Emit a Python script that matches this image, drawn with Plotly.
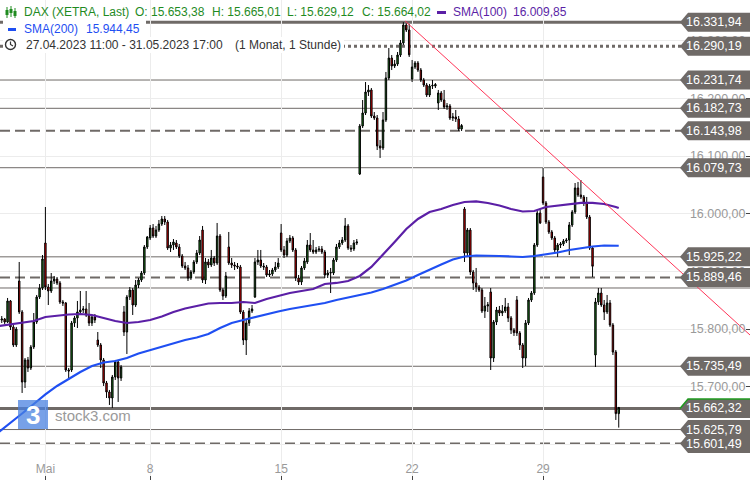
import plotly.graph_objects as go

W, H = 750, 480

# ---------------- data (hourly candles, 27.04.2023 11:00 - 31.05.2023 17:00) ----------------
open_ = [
    15812.2, 15815.7, 15817.4, 15812.2, 15848.7, 15803.6, 15772.4, 15883.3, 15829.6, 15708.2,
    15746.4, 15732.5, 15768.9, 15812.2, 15855.6, 15871.2, 15949.2, 15872.9, 15866.0, 15883.3,
    15886.8, 15879.9, 15846.9, 15845.2, 15729.0, 15729.0, 15810.5, 15819.2, 15829.6, 15833.0,
    15834.8, 15824.4, 15810.5, 15820.9, 15781.0, 15772.4, 15746.4, 15706.5, 15690.9, 15680.5,
    15716.9, 15742.9, 15715.2, 15829.6, 15794.9, 15855.6, 15867.7, 15841.7, 15876.4, 15885.1,
    15897.2, 15942.3, 15957.9, 15975.2, 15961.3, 15971.7, 15982.1, 15990.8, 15985.6, 15940.5,
    15945.7, 15949.2, 15942.3, 15926.7, 15909.3, 15905.9, 15888.5, 15898.9, 15916.3, 15931.9,
    15971.7, 15885.1, 15916.3, 15911.1, 15923.2, 15914.5, 15961.3, 15867.7, 15857.3, 15942.3,
    15914.5, 15911.1, 15909.3, 15907.6, 15829.6, 15781.0, 15810.5, 15831.3, 15855.6, 15916.3,
    15919.7, 15909.3, 15907.6, 15893.7, 15895.5, 15902.4, 15907.6, 15966.5, 15937.1, 15928.4,
    15952.7, 15957.9, 15937.1, 15888.5, 15881.6, 15905.9, 15916.3, 15945.7, 15937.1, 15933.6,
    15937.1, 15938.8, 15933.6, 15893.7, 15897.2, 15897.2, 15919.7, 15942.3, 15949.2, 15954.4,
    15978.7, 15940.5, 15938.8, 15949.2, 16068.8, 16152.1, 16174.6, 16211.0, 16214.5, 16169.4,
    16165.9, 16117.4, 16113.9, 16162.5, 16235.3, 16269.9, 16256.1, 16259.5, 16275.1, 16296.0,
    16327.2, 16318.5, 16233.5, 16254.3, 16261.3, 16249.1, 16231.8, 16223.1, 16205.8, 16221.4,
    16221.4, 16191.9, 16209.3, 16197.1, 16185.0, 16186.7, 16165.9, 16167.7, 16164.2, 16146.9,
    16008.2, 15931.9, 15971.7, 15898.9, 15879.9, 15872.9, 15867.7, 15831.3, 15840.0, 15864.3,
    15749.8, 15812.2, 15833.0, 15827.8, 15831.3, 15838.3, 15819.2, 15798.4, 15850.4, 15793.2,
    15772.4, 15749.8, 15810.5, 15850.4, 15862.5, 15945.7, 16001.2, 16063.6, 16018.6, 15985.6,
    15968.3, 15957.9, 15937.1, 15945.7, 15947.5, 15952.7, 15954.4, 15980.4, 16003.0, 16044.6,
    16032.4, 16029.0, 16018.6, 15994.3, 15940.5, 15755.0, 15846.9, 15862.5, 15841.7, 15829.6,
    15845.2, 15807.0, 15760.2, 15653.38,
]
high = [
    15820.9, 15822.6, 15819.2, 15853.9, 15850.4, 15807.0, 15803.6, 15916.3, 15833.0, 15749.8,
    15751.6, 15772.4, 15827.8, 15859.1, 15878.1, 15928.4, 16011.6, 15878.1, 15897.2, 15892.0,
    15890.3, 15883.3, 15850.4, 15846.9, 15732.5, 15814.0, 15822.6, 15848.7, 15866.0, 15840.0,
    15866.0, 15845.2, 15824.4, 15826.1, 15794.9, 15775.8, 15749.8, 15710.0, 15694.4, 15720.4,
    15746.4, 15746.4, 15737.7, 15840.0, 15859.1, 15872.9, 15871.2, 15885.1, 15888.5, 15900.7,
    15945.7, 15961.3, 15980.4, 15982.1, 15978.7, 15989.1, 15996.0, 15996.0, 15989.1, 15950.9,
    15956.1, 15954.4, 15947.5, 15930.1, 15916.3, 15911.1, 15902.4, 15919.7, 15937.1, 15961.3,
    15978.7, 15923.2, 15921.5, 15937.1, 15926.7, 15983.9, 15964.8, 15871.2, 15898.9, 15968.3,
    15923.2, 15916.3, 15914.5, 15911.1, 15833.0, 15815.7, 15836.5, 15841.7, 15923.2, 15937.1,
    15937.1, 15914.5, 15911.1, 15902.4, 15905.9, 15916.3, 15923.2, 15982.1, 15944.0, 15957.9,
    15963.1, 15961.3, 15940.5, 15893.7, 15909.3, 15923.2, 15954.4, 15966.5, 15954.4, 15942.3,
    15944.0, 15944.0, 15937.1, 15902.4, 15905.9, 15923.2, 15947.5, 15954.4, 15959.6, 15992.6,
    15982.1, 15945.7, 15954.4, 15956.1, 16155.5, 16197.1, 16228.3, 16223.1, 16217.9, 16176.3,
    16171.1, 16127.8, 16176.3, 16245.7, 16287.3, 16275.1, 16266.5, 16280.3, 16301.1, 16331.9,
    16330.0, 16328.9, 16266.5, 16264.7, 16264.7, 16252.6, 16235.3, 16226.6, 16224.9, 16231.8,
    16226.6, 16214.5, 16212.7, 16214.5, 16191.9, 16190.2, 16174.6, 16179.8, 16169.4, 16155.5,
    16011.6, 15975.2, 15975.2, 15902.4, 15905.9, 15876.4, 15871.2, 15855.6, 15846.9, 15871.2,
    15815.7, 15838.3, 15840.0, 15841.7, 15853.9, 15845.2, 15822.6, 15801.8, 15857.3, 15796.6,
    15775.8, 15815.7, 15853.9, 15866.0, 15949.2, 16004.7, 16006.4, 16079.2, 16022.0, 15989.1,
    15971.7, 15961.3, 15949.2, 15950.9, 15956.1, 15957.9, 15985.6, 16006.4, 16053.2, 16055.0,
    16058.4, 16032.4, 16029.0, 15997.8, 15944.0, 15853.9, 15871.2, 15871.2, 15850.4, 15859.1,
    15850.4, 15810.5, 15763.7, 15665.01,
]
low = [
    15807.0, 15810.5, 15808.8, 15810.5, 15798.4, 15768.9, 15768.9, 15826.1, 15689.2, 15697.8,
    15725.6, 15729.0, 15765.4, 15808.8, 15852.1, 15867.7, 15867.7, 15841.7, 15862.5, 15878.1,
    15876.4, 15843.5, 15840.0, 15725.6, 15711.7, 15725.6, 15803.6, 15801.8, 15826.1, 15827.8,
    15820.9, 15805.3, 15805.3, 15810.5, 15768.9, 15732.5, 15701.3, 15680.5, 15668.4, 15663.2,
    15711.7, 15673.6, 15710.0, 15788.0, 15756.8, 15850.4, 15824.4, 15838.3, 15871.2, 15881.6,
    15893.7, 15938.8, 15954.4, 15957.9, 15957.9, 15968.3, 15978.7, 15980.4, 15937.1, 15933.6,
    15937.1, 15938.8, 15923.2, 15905.9, 15902.4, 15883.3, 15885.1, 15895.5, 15912.8, 15928.4,
    15879.9, 15878.1, 15905.9, 15907.6, 15909.3, 15911.1, 15864.3, 15850.4, 15853.9, 15911.1,
    15905.9, 15902.4, 15904.1, 15826.1, 15772.4, 15755.0, 15805.3, 15827.8, 15853.9, 15911.1,
    15905.9, 15902.4, 15890.3, 15890.3, 15892.0, 15898.9, 15904.1, 15933.6, 15923.2, 15924.9,
    15949.2, 15933.6, 15883.3, 15876.4, 15876.4, 15902.4, 15912.8, 15933.6, 15930.1, 15930.1,
    15933.6, 15930.1, 15888.5, 15888.5, 15862.5, 15893.7, 15916.3, 15938.8, 15945.7, 15950.9,
    15937.1, 15933.6, 15935.3, 15945.7, 16067.1, 16148.6, 16171.1, 16204.1, 16165.9, 16162.5,
    16110.4, 16096.6, 16110.4, 16159.0, 16231.8, 16249.1, 16252.6, 16256.1, 16271.7, 16292.5,
    16315.0, 16271.7, 16228.3, 16250.9, 16245.7, 16228.3, 16219.7, 16202.3, 16202.3, 16216.2,
    16217.9, 16179.8, 16193.7, 16181.5, 16179.8, 16162.5, 16160.7, 16159.0, 16143.4, 16143.4,
    15916.3, 15926.7, 15893.7, 15867.7, 15864.3, 15864.3, 15827.8, 15819.2, 15829.6, 15729.0,
    15742.9, 15807.0, 15822.6, 15822.6, 15827.8, 15812.2, 15791.4, 15788.0, 15788.0, 15763.7,
    15732.5, 15735.9, 15807.0, 15846.9, 15859.1, 15942.3, 15982.1, 16015.1, 15982.1, 15964.8,
    15954.4, 15931.9, 15924.9, 15940.5, 15944.0, 15949.2, 15928.4, 15976.9, 15999.5, 16029.0,
    16025.5, 16013.4, 15990.8, 15937.1, 15890.3, 15734.2, 15841.7, 15838.3, 15815.7, 15826.1,
    15803.6, 15755.0, 15642.4, 15629.12,
]
close = [
    15815.7, 15817.4, 15812.2, 15848.7, 15803.6, 15772.4, 15800.1, 15829.6, 15708.2, 15746.4,
    15732.5, 15768.9, 15812.2, 15855.6, 15871.2, 15921.5, 15872.9, 15866.0, 15883.3, 15886.8,
    15879.9, 15846.9, 15845.2, 15729.0, 15727.3, 15810.5, 15819.2, 15829.6, 15833.0, 15834.8,
    15824.4, 15810.5, 15820.9, 15815.7, 15772.4, 15746.4, 15706.5, 15690.9, 15680.5, 15716.9,
    15742.9, 15715.2, 15734.2, 15794.9, 15855.6, 15867.7, 15841.7, 15876.4, 15885.1, 15897.2,
    15942.3, 15959.6, 15975.2, 15961.3, 15971.7, 15982.1, 15990.8, 15985.6, 15940.5, 15945.7,
    15950.9, 15942.3, 15926.7, 15909.3, 15905.9, 15888.5, 15898.9, 15916.3, 15931.9, 15954.4,
    15885.1, 15916.3, 15911.1, 15923.2, 15914.5, 15961.3, 15867.7, 15857.3, 15892.0, 15914.5,
    15911.1, 15909.3, 15907.6, 15829.6, 15781.0, 15810.5, 15831.3, 15834.8, 15916.3, 15919.7,
    15909.3, 15907.6, 15893.7, 15895.5, 15902.4, 15907.6, 15914.5, 15937.1, 15928.4, 15952.7,
    15957.9, 15937.1, 15888.5, 15881.6, 15905.9, 15918.0, 15945.7, 15937.1, 15933.6, 15937.1,
    15938.8, 15933.6, 15893.7, 15897.2, 15897.9, 15919.7, 15942.3, 15949.2, 15954.4, 15978.7,
    15940.5, 15938.8, 15949.2, 15950.9, 16152.1, 16174.6, 16211.0, 16214.5, 16169.4, 16165.9,
    16117.4, 16113.9, 16162.5, 16235.3, 16269.9, 16256.1, 16259.5, 16275.1, 16296.0, 16327.2,
    16318.5, 16275.4, 16254.3, 16261.3, 16249.1, 16231.8, 16223.1, 16205.8, 16221.4, 16222.5,
    16224.0, 16209.3, 16197.1, 16185.0, 16186.7, 16165.9, 16167.7, 16164.2, 16146.9, 16152.9,
    15931.9, 15971.7, 15898.9, 15879.9, 15872.9, 15867.7, 15831.3, 15840.0, 15842.1, 15749.8,
    15812.2, 15833.0, 15827.8, 15831.3, 15838.3, 15819.2, 15798.4, 15793.8, 15793.2, 15772.4,
    15749.8, 15810.5, 15850.4, 15862.5, 15945.7, 16001.2, 15984.0, 16018.6, 15985.6, 15968.3,
    15957.9, 15937.1, 15945.7, 15947.5, 15952.7, 15954.4, 15980.4, 16003.0, 16044.6, 16032.4,
    16029.0, 16018.6, 15994.3, 15940.5, 15908.9, 15846.9, 15862.5, 15841.7, 15829.6, 15845.2,
    15807.0, 15760.2, 15653.4, 15664.02,
]
assert len(open_) == len(high) == len(low) == len(close) == 214
candle_idx = list(range(len(close)))

# x-axis: first candle of each week
tick_idx = [16, 52, 97, 142, 187]
tick_text = ["Mai", "8", "15", "22", "29"]

# moving averages (read every 4th candle)
sma_idx = list(range(0, 213, 4)) + [213]
sma100 = [
    15805.3, 15807.9, 15810.5, 15814.0, 15820.9, 15823.5, 15825.2, 15826.1, 15824.4, 15819.2,
    15814.0, 15810.5, 15812.2, 15815.7, 15821.8, 15829.6, 15835.7, 15840.0, 15844.3, 15845.2,
    15845.2, 15846.9, 15845.2, 15852.1, 15857.3, 15862.5, 15866.0, 15869.5, 15878.1, 15879.9,
    15883.3, 15892.0, 15907.6, 15928.4, 15950.9, 15973.5, 15990.8, 16003.0, 16008.2, 16015.1,
    16020.3, 16021.2, 16018.6, 16014.2, 16008.2, 16003.8, 16004.7, 16011.6, 16014.2, 16016.8,
    16018.6, 16018.6, 16016.8, 16011.6, 16009.85,
]
sma200 = [
    15621.5, 15637.1, 15653.6, 15670.1, 15686.6, 15701.3, 15713.4, 15725.6, 15735.9, 15742.0,
    15744.6, 15749.8, 15757.6, 15763.7, 15769.8, 15775.8, 15781.0, 15785.4, 15791.4, 15801.8,
    15810.5, 15815.7, 15820.9, 15826.1, 15830.5, 15834.8, 15838.3, 15842.6, 15845.2, 15850.4,
    15854.7, 15859.1, 15863.4, 15869.5, 15876.4, 15884.2, 15893.7, 15903.3, 15911.9, 15920.6,
    15925.8, 15927.5, 15927.5, 15926.7, 15925.8, 15924.9, 15926.7, 15929.3, 15932.7, 15937.1,
    15940.5, 15943.1, 15944.9, 15944.0, 15944.45,
]

# horizontal price levels with tags
levels = [16331.94, 16290.19, 16231.74, 16182.73, 16143.98, 16079.73,
          15925.22, 15889.46, 15735.49, 15662.32, 15625.79, 15601.49]
level_dash = ["solid", "dot", "solid", "solid", "10px,5px", "solid",
              "solid", "10px,5px", "solid", "solid", "solid", "10px,5px"]
level_width = [3, 3, 1, 1, 2, 1, 1, 2, 1, 3, 1, 2]
untagged_levels = [15871.2]

# trend line anchors (candle index, price)
trend_x = [139.6, 258.1]
trend_y = [16334.1, 15789.7]

x_range = [0.4, 258.1]
y_range = [15538.3, 16370.5]
y_ticks = [15600, 15700, 15800, 15900, 16000, 16100, 16200, 16300]

# ---------------- styling ----------------
FONT = "Liberation Sans"
GREEN = "#1c7f1c"
RED = "#ee0000"
PURPLE = "#5b1fa6"
BLUE = "#1f4ff2"
HDR_GREEN = "#1f8b1f"
TAG = "#6f6a67"
LINE = "#6f6a67"


def de(v):
    s = f"{v:,.2f}"
    return s.replace(",", "_").replace(".", ",").replace("_", ".")


def px(x):
    return x / W


def py(y):
    return 1 - y / H


fig = go.Figure()

fig.add_trace(go.Candlestick(
    x=candle_idx, open=open_, high=high, low=low, close=close,
    increasing=dict(fillcolor=GREEN, line=dict(color="black", width=1)),
    decreasing=dict(fillcolor=RED, line=dict(color="black", width=1)),
    whiskerwidth=0, hoverinfo="skip", showlegend=False,
))
fig.add_trace(go.Scatter(x=sma_idx, y=sma100, mode="lines",
                         line=dict(color=PURPLE, width=2.2), hoverinfo="skip", showlegend=False))
fig.add_trace(go.Scatter(x=sma_idx, y=sma200, mode="lines",
                         line=dict(color=BLUE, width=2.2), hoverinfo="skip", showlegend=False))
fig.add_trace(go.Scatter(x=trend_x, y=trend_y, mode="lines",
                         line=dict(color="#ff3558", width=1), hoverinfo="skip", showlegend=False))

shapes = []
annotations = []

# level lines
for v in untagged_levels:
    shapes.append(dict(type="line", xref="paper", x0=0, x1=1, yref="y", y0=v, y1=v,
                       line=dict(color=LINE, width=1), layer="below"))
for v, d, w in zip(levels, level_dash, level_width):
    shapes.append(dict(type="line", xref="paper", x0=0, x1=1, yref="y", y0=v, y1=v,
                       line=dict(color=LINE, width=w, dash=d), layer="below"))

# price tags
for v in levels:
    shapes.append(dict(type="path", xref="paper", xsizemode="pixel", xanchor=1,
                       yref="y", ysizemode="pixel", yanchor=v,
                       path="M -70,0 L -62,9.5 L 0,9.5 L 0,-9.5 L -62,-9.5 Z",
                       fillcolor=TAG, line=dict(width=0), layer="above"))
    if v == 15662.32:
        shapes.append(dict(type="path", xref="paper", xsizemode="pixel", xanchor=1,
                           yref="y", ysizemode="pixel", yanchor=v,
                           path="M -70,0 L -62,9.5 L 0,9.5",
                           line=dict(color="#1f9a1f", width=1.5), layer="above"))
    annotations.append(dict(x=1, xref="paper", xanchor="right", xshift=-6,
                            y=v, yref="y", yanchor="middle", text=de(v), showarrow=False,
                            font=dict(family=FONT, size=12.5, color="white")))

# header white boxes
shapes.append(dict(type="rect", xref="paper", yref="paper", x0=px(3), x1=px(146),
                   y0=py(37), y1=py(20), fillcolor="white", line=dict(width=0), layer="above"))
shapes.append(dict(type="rect", xref="paper", yref="paper", x0=px(3), x1=px(344),
                   y0=py(53), y1=py(37), fillcolor="white", line=dict(width=0), layer="above"))

# header icon (candles)
for cx, top, bot, b0, b1 in [(7, 7, 18, 10, 15), (11, 6, 17, 9, 13), (15, 8, 18, 11, 16)]:
    shapes.append(dict(type="line", xref="paper", yref="paper", x0=px(cx), x1=px(cx),
                       y0=py(top), y1=py(bot), line=dict(color=HDR_GREEN, width=1), layer="above"))
    shapes.append(dict(type="rect", xref="paper", yref="paper", x0=px(cx - 1.5), x1=px(cx + 1.5),
                       y0=py(b1), y1=py(b0), fillcolor=HDR_GREEN, line=dict(width=0), layer="above"))
# legend bars
shapes.append(dict(type="line", xref="paper", yref="paper", x0=px(437), x1=px(446),
                   y0=py(12.5), y1=py(12.5), line=dict(color=PURPLE, width=3), layer="above"))
shapes.append(dict(type="line", xref="paper", yref="paper", x0=px(8), x1=px(16),
                   y0=py(29.5), y1=py(29.5), line=dict(color=BLUE, width=3), layer="above"))
# clock icon
shapes.append(dict(type="circle", xref="paper", yref="paper", x0=px(5.5), x1=px(15.5),
                   y0=py(49.5), y1=py(39.5), line=dict(color="#333333", width=1.4), layer="above"))
shapes.append(dict(type="path", xref="paper", yref="paper",
                   path=f"M {px(10.5)},{py(41.5)} L {px(10.5)},{py(44.5)} L {px(13)},{py(46)}",
                   line=dict(color="#333333", width=1.2), layer="above"))

# logo
shapes.append(dict(type="rect", xref="paper", yref="paper", x0=px(18), x1=px(48),
                   y0=py(429), y1=py(400), fillcolor="#4a82e0", opacity=0.75,
                   line=dict(width=0), layer="above"))


def hdr(x, y, text, color, size=12):
    annotations.append(dict(x=px(x), y=py(y), xref="paper", yref="paper", xanchor="left",
                            yanchor="middle", text=text, showarrow=False,
                            font=dict(family=FONT, size=size, color=color)))


hdr(22, 12.5, "DAX (XETRA, Last)", HDR_GREEN)
hdr(133, 12.5, "O: " + de(open_[-1]), HDR_GREEN)
hdr(210, 12.5, "H: " + de(high[-1]), HDR_GREEN)
hdr(285, 12.5, "L: " + de(low[-1]), HDR_GREEN)
hdr(360, 12.5, "C: " + de(close[-1]), HDR_GREEN)
hdr(451, 12.5, "SMA(100)", PURPLE)
hdr(511, 12.5, de(sma100[-1]), PURPLE)
hdr(22, 29, "SMA(200)", BLUE)
hdr(84, 29, de(sma200[-1]), BLUE)
hdr(24, 45, "27.04.2023 11:00 - 31.05.2023 17:00", "#333333")
hdr(233, 45, "(1 Monat, 1 Stunde)", "#333333")

annotations.append(dict(x=px(33), y=py(415), xref="paper", yref="paper",
                        xanchor="center", yanchor="middle", text="<b>3</b>",
                        showarrow=False, font=dict(family=FONT, size=26, color="white")))
annotations.append(dict(x=px(53), y=py(415), xref="paper", yref="paper", xanchor="left",
                        yanchor="middle", text="stock3.com", showarrow=False,
                        font=dict(family=FONT, size=15, color="#9a9a9a")))

fig.update_layout(
    width=W, height=H, margin=dict(l=0, r=0, t=0, b=0),
    paper_bgcolor="white", plot_bgcolor="white", showlegend=False,
    separators=",.", shapes=shapes, annotations=annotations,
    font=dict(family=FONT),
    xaxis=dict(range=x_range, tickmode="array", tickvals=tick_idx, ticktext=tick_text,
               ticks="inside", ticklen=4, tickcolor="#444", ticklabelposition="inside",
               tickfont=dict(family=FONT, size=12, color="#999999"),
               showgrid=True, gridcolor="#ececec", zeroline=False, showline=False,
               rangeslider=dict(visible=False), fixedrange=True),
    yaxis=dict(range=y_range, side="right", tickmode="array", tickvals=y_ticks,
               tickformat=",.2f", ticks="inside", ticklen=4, tickcolor="#444",
               ticklabelposition="inside",
               tickfont=dict(family=FONT, size=12.5, color="#9a9a9a"),
               showgrid=True, gridcolor="#ececec", zeroline=False, showline=False,
               fixedrange=True),
)

fig.write_html(
    "out.html",
    config={"displayModeBar": False},
    post_script="document.body.style.margin='0';document.body.style.overflow='hidden';",
)
